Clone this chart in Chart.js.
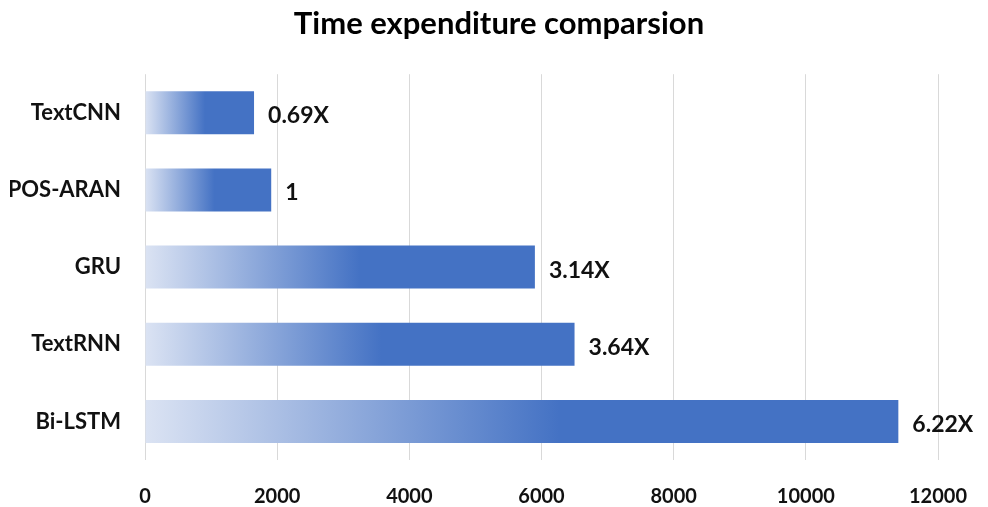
<!DOCTYPE html>
<html>
<head>
<meta charset="utf-8">
<script src="https://cdn.jsdelivr.net/npm/chart.js@4"></script>
<style>
  html, body { margin: 0; padding: 0; background: #fff; }
  #wrap { width: 988px; height: 507px; }
</style>
</head>
<body>
<div id="wrap"><canvas id="chart" width="988" height="507"></canvas></div>
<script>
const categories = ['TextCNN', 'POS-ARAN', 'GRU', 'TextRNN', 'Bi-LSTM']
const timeCost = [1650, 1910, 5900, 6500, 11400]
const ratioLabels = ['0.69X', '1', '3.14X', '3.64X', '6.22X']
const xTicks = [0, 2000, 4000, 6000, 8000, 10000, 12000]

const FONT = 'Lato, "Open Sans", sans-serif'

// light-to-solid blue fade, computed per bar from its own extent
function barFill(ctx) {
  const chart = ctx.chart
  const x = chart.scales.x
  if (!x || !chart.chartArea) return '#4472c4'
  const v = ctx.raw || 0
  const x0 = x.getPixelForValue(0)
  const x1 = x.getPixelForValue(v)
  if (!(x1 > x0)) return '#4472c4'
  const g = chart.ctx.createLinearGradient(x0, 0, x1, 0)
  g.addColorStop(0, '#dbe3f3')
  g.addColorStop(0.55, '#4472c4')
  g.addColorStop(1, '#4472c4')
  return g
}

const ratioLabelPlugin = {
  id: 'ratioLabels',
  afterDatasetsDraw(chart) {
    const ctx = chart.ctx
    const meta = chart.getDatasetMeta(0)
    ctx.save()
    ctx.font = 'bold 23px ' + FONT
    ctx.fillStyle = '#111'
    ctx.textAlign = 'left'
    ctx.textBaseline = 'middle'
    meta.data.forEach((bar, i) => {
      ctx.fillText(ratioLabels[i], bar.x + 14, bar.y + 3)
    })
    ctx.restore()
  }
}

new Chart(document.getElementById('chart').getContext('2d'), {
  type: 'bar',
  data: {
    labels: categories,
    datasets: [{
      data: timeCost,
      backgroundColor: barFill,
      borderWidth: 0,
      barPercentage: 0.557,
      categoryPercentage: 1
    }]
  },
  options: {
    indexAxis: 'y',
    responsive: false,
    animation: false,
    layout: { padding: { left: 10, right: 0, top: 0, bottom: 0 } },
    plugins: {
      legend: { display: false },
      tooltip: { enabled: false },
      title: {
        display: true,
        text: 'Time expenditure comparsion',
        color: '#000',
        font: { family: FONT, size: 31, weight: 'bold' },
        padding: { top: 5, bottom: 32 }
      }
    },
    scales: {
      x: {
        min: 0,
        max: 12000,
        afterBuildTicks(scale) { scale.ticks = xTicks.map(v => ({ value: v })) },
        afterFit(scale) {
          scale.height = 47
          scale.paddingRight = 50
        },
        grid: { color: '#d9d9d9', lineWidth: 1, drawTicks: false },
        border: { display: false },
        ticks: {
          color: '#111',
          padding: 25,
          maxRotation: 0,
          callback: v => String(v),
          font: { family: FONT, size: 20, weight: 'bold' }
        }
      },
      y: {
        grid: { display: false, drawTicks: false },
        border: { display: false },
        afterFit(scale) { scale.width = 135 },
        ticks: {
          color: '#111',
          padding: 24,
          font: { family: FONT, size: 22, weight: 'bold' }
        }
      }
    }
  },
  plugins: [ratioLabelPlugin]
})
</script>
</body>
</html>
